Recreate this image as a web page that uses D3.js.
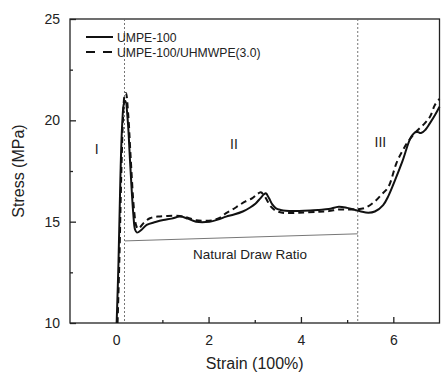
<!DOCTYPE html>
<html>
<head>
<meta charset="utf-8">
<script src="https://cdn.jsdelivr.net/npm/d3@7"></script>
<style>
  body { margin: 0; background: #fff; }
  svg text { font-family: "Liberation Sans", Arial, sans-serif; fill: #222; }
</style>
</head>
<body>
<div id="chart"></div>
<script>
// strain (100%) / stress (MPa)
var umpeStrain = [0.01, 0.05, 0.09, 0.13, 0.17, 0.2, 0.25, 0.3, 0.37, 0.41, 0.45, 0.55, 0.66, 0.85, 1.02, 1.2, 1.38, 1.55, 1.73, 2.02, 2.2, 2.38, 2.55, 2.74, 2.9, 3.02, 3.12, 3.2, 3.24, 3.31, 3.38, 3.46, 3.56, 3.67, 3.96, 4.2, 4.39, 4.6, 4.82, 5.0, 5.17, 5.3, 5.46, 5.6, 5.78, 5.9, 6.04, 6.2, 6.39, 6.5, 6.6, 6.7, 6.79, 6.9, 7.0]
var umpeStress = [10, 13.0, 17.06, 19.8, 20.85, 20.95, 20.0, 18.0, 15.4, 14.6, 14.46, 14.6, 14.84, 14.98, 15.08, 15.15, 15.25, 15.15, 15.0, 15.0, 15.1, 15.25, 15.35, 15.5, 15.7, 15.9, 16.15, 16.35, 16.4, 16.15, 15.85, 15.66, 15.58, 15.54, 15.53, 15.55, 15.58, 15.62, 15.74, 15.68, 15.58, 15.5, 15.44, 15.5, 15.82, 16.3, 17.06, 18.0, 19.2, 19.44, 19.37, 19.55, 19.85, 20.25, 20.67]

var blendStrain = [0.03, 0.07, 0.11, 0.15, 0.18, 0.21, 0.26, 0.31, 0.39, 0.44, 0.48, 0.6, 0.73, 0.9, 1.09, 1.38, 1.55, 1.73, 2.09, 2.25, 2.38, 2.52, 2.67, 2.8, 2.95, 3.05, 3.13, 3.2, 3.35, 3.45, 3.6, 3.96, 4.39, 4.6, 4.82, 5.0, 5.17, 5.39, 5.6, 5.75, 5.89, 6.07, 6.2, 6.32, 6.5, 6.68, 6.8, 6.9, 7.0]
var blendStress = [10, 13.2, 17.3, 20.2, 21.2, 21.35, 20.3, 18.3, 15.5, 14.76, 14.65, 14.95, 15.17, 15.25, 15.28, 15.28, 15.2, 15.07, 15.07, 15.2, 15.42, 15.6, 15.82, 16.0, 16.16, 16.35, 16.45, 16.3, 15.74, 15.55, 15.44, 15.44, 15.49, 15.52, 15.6, 15.6, 15.6, 15.68, 16.0, 16.35, 16.7, 17.9, 18.5, 18.95, 19.45, 19.85, 20.2, 20.76, 21.05]

var xTicks = [0, 2, 4, 6]
var xMinorTicks = [1, 3, 5]
var yTicks = [10, 15, 20, 25]
var yMinorTicks = [12.5, 17.5, 22.5]
var regionBounds = [0.18, 5.23]
var drawRatioLine = [[0.19, 14.05], [5.23, 14.4]]
var regionLabels = [
  { text: 'I', x: -0.42, y: 18.6 },
  { text: 'II', x: 2.55, y: 18.85 },
  { text: 'III', x: 5.72, y: 18.95 }
]
var legendItems = ['UMPE-100', 'UMPE-100/UHMWPE(3.0)']

var W = 441, H = 372
var margin = { top: 19, right: 1, bottom: 49, left: 70 }

var svg = d3.select('#chart').append('svg')
  .attr('width', W).attr('height', H)

var x = d3.scaleLinear().domain([-1, 7]).range([margin.left, W - margin.right - 0.5])
var y = d3.scaleLinear().domain([10, 25]).range([H - margin.bottom, margin.top])

var lineAny = d3.line().x(d => x(d[0])).y(d => y(d[1])).curve(d3.curveCatmullRom.alpha(0.5))

// frame
svg.append('rect')
  .attr('x', x(-1)).attr('y', y(25))
  .attr('width', x(7) - x(-1)).attr('height', y(10) - y(25))
  .attr('fill', 'none').attr('stroke', '#222').attr('stroke-width', 1.3)

// axes, ticks inward
svg.append('g').attr('transform', 'translate(0,' + y(10) + ')')
  .call(d3.axisBottom(x).tickValues(xTicks).tickSizeInner(-6).tickSizeOuter(0).tickPadding(12))
svg.append('g').attr('transform', 'translate(0,' + y(10) + ')')
  .call(d3.axisBottom(x).tickValues(xMinorTicks).tickSizeInner(-3).tickSizeOuter(0).tickFormat(''))
svg.append('g').attr('transform', 'translate(' + x(-1) + ',0)')
  .call(d3.axisLeft(y).tickValues(yTicks).tickSizeInner(-6).tickSizeOuter(0).tickPadding(10))
svg.append('g').attr('transform', 'translate(' + x(-1) + ',0)')
  .call(d3.axisLeft(y).tickValues(yMinorTicks).tickSizeInner(-3).tickSizeOuter(0).tickFormat(''))

svg.selectAll('.domain').remove()
svg.selectAll('.tick line').attr('stroke', '#222').attr('stroke-width', 1.3)
svg.selectAll('.tick text').attr('font-size', 14).attr('fill', '#222')
  .style('font-family', '"Liberation Sans", Arial, sans-serif')

// region boundaries
svg.selectAll('.bound').data(regionBounds).enter().append('line')
  .attr('x1', d => x(d)).attr('x2', d => x(d))
  .attr('y1', y(25)).attr('y2', y(10))
  .attr('stroke', '#666').attr('stroke-width', 0.9).attr('stroke-dasharray', '2,2')

// natural draw ratio line
svg.append('line')
  .attr('x1', x(drawRatioLine[0][0])).attr('y1', y(drawRatioLine[0][1]))
  .attr('x2', x(drawRatioLine[1][0])).attr('y2', y(drawRatioLine[1][1]))
  .attr('stroke', '#777').attr('stroke-width', 1)

svg.append('text')
  .attr('x', x(2.9)).attr('y', y(13.4) + 5)
  .attr('text-anchor', 'middle').attr('font-size', 13.5)
  .text('Natural Draw Ratio')

svg.selectAll('.region').data(regionLabels).enter().append('text')
  .attr('x', d => x(d.x)).attr('y', d => y(d.y) + 5)
  .attr('text-anchor', 'middle').attr('font-size', 14)
  .text(d => d.text)

// curves
var umpe = umpeStrain.map((s, i) => [s, umpeStress[i]])
var blend = blendStrain.map((s, i) => [s, blendStress[i]])

svg.append('path').attr('d', lineAny(blend))
  .attr('fill', 'none').attr('stroke', '#111').attr('stroke-width', 2)
  .attr('stroke-dasharray', '6,4')
svg.append('path').attr('d', lineAny(umpe))
  .attr('fill', 'none').attr('stroke', '#111').attr('stroke-width', 2)

// legend
var legend = svg.append('g').attr('transform', 'translate(86,37)')
legendItems.forEach((name, i) => {
  var g = legend.append('g').attr('transform', 'translate(0,' + (i * 15) + ')')
  g.append('line').attr('x1', 0).attr('x2', 27)
    .attr('stroke', '#111').attr('stroke-width', 2)
    .attr('stroke-dasharray', i == 1 ? '9,8' : null)
  g.append('text').attr('x', 31).attr('y', 5).attr('font-size', 12.2).text(name)
})

// axis titles
svg.append('text')
  .attr('x', (x(-1) + x(7)) / 2).attr('y', 369)
  .attr('text-anchor', 'middle').attr('font-size', 16)
  .text('Strain (100%)')
svg.append('text')
  .attr('transform', 'translate(24,' + ((y(10) + y(25)) / 2) + ') rotate(-90)')
  .attr('text-anchor', 'middle').attr('font-size', 16)
  .text('Stress (MPa)')
</script>
</body>
</html>
